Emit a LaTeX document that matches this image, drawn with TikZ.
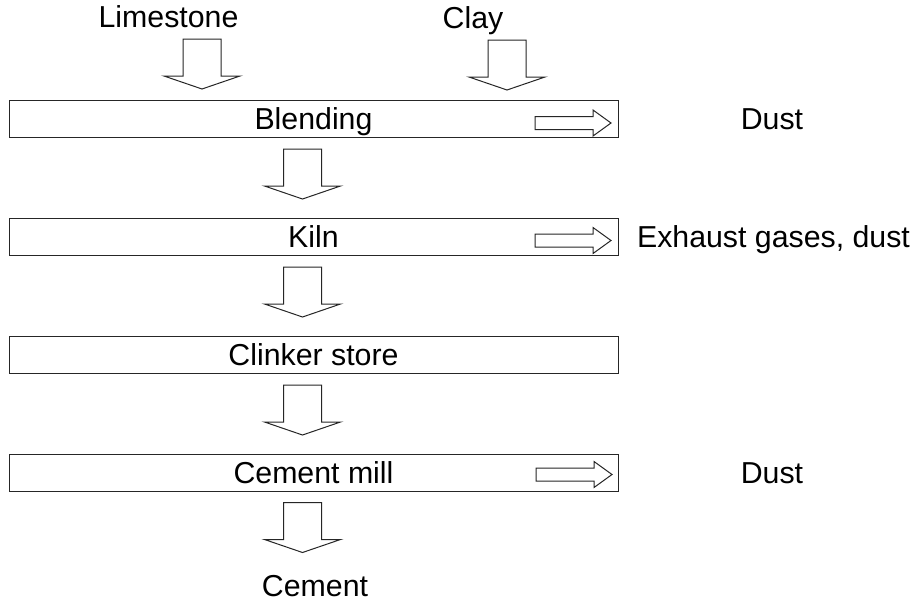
\documentclass[tikz,border=0pt]{standalone}
\usepackage{fontspec}
\setmainfont{Liberation Sans}
\begin{document}
\begin{tikzpicture}[x=1pt,y=-1pt,
  flowline/.style={draw=black!85, line width=1pt, fill=white},
  stage/.style={draw=black!85, line width=1pt, minimum width=609pt, minimum height=37pt,
    inner sep=0pt, text height=21.6pt, text depth=0pt},
  tag/.style={inner sep=0pt, text height=21.6pt, text depth=0pt},
  pics/downarrow/.style={code={
    \draw[flowline] (-19,0) -- (19,0) -- (19,37) -- (38,37) -- (0,50)
      -- (-38,37) -- (-19,37) -- cycle;}},
  pics/rightarrow/.style={code={
    \draw[flowline] (0,-6.5) -- (58,-6.5) -- (58,-13) -- (76,0) -- (58,13)
      -- (58,6.5) -- (0,6.5) -- cycle;}}
]
\fontsize{30.3}{36}\selectfont
\useasboundingbox (0,0) rectangle (915,608);

% raw materials
\node[tag] (lime) at (168.5,17) {Limestone};
\node[tag] (clay) at (473,17.5) {Clay};

% process stages
\node[stage] (blend)   at (313.5,118.5) {Blending};
\node[stage] (kiln)    at (313.5,236.5) {Kiln};
\node[stage] (clinker) at (313.5,354.5) {Clinker store};
\node[stage] (mill)    at (313.5,472.5) {Cement mill};

% product and emissions
\node[tag] (cement) at (315,586) {Cement};
\node[tag] (dust1) at (772,118.5) {Dust};
\node[tag] (gases) at (773.5,236.5) {Exhaust gases, dust};
\node[tag] (dust2) at (772,472.5) {Dust};

% material flow
\pic at ([xshift=33.5pt,yshift=-11pt]lime.south) {downarrow};
\pic at ([xshift=34pt,yshift=-11.5pt]clay.south) {downarrow};
\pic at ([xshift=-11pt,yshift=-11.5pt]blend.south) {downarrow};
\pic at ([xshift=-11pt,yshift=-11.5pt]kiln.south) {downarrow};
\pic at ([xshift=-11pt,yshift=-11.5pt]clinker.south) {downarrow};
\pic at ([xshift=-11pt,yshift=-11pt]mill.south) {downarrow};

% emission outlets
\pic at ([xshift=-83.5pt,yshift=-4.5pt]blend.east) {rightarrow};
\pic at ([xshift=-83.5pt,yshift=-4pt]kiln.east) {rightarrow};
\pic at ([xshift=-82.5pt,yshift=-2pt]mill.east) {rightarrow};
\end{tikzpicture}
\end{document}
